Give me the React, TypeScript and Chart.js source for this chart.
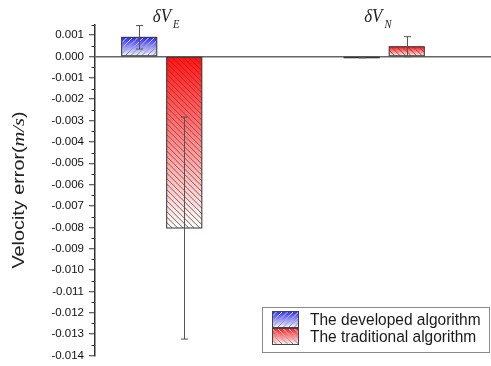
import React, { useEffect, useRef } from 'react';
import { Chart, registerables } from 'chart.js';

Chart.register(...registerables);

// ---- data ----
const categoryMain = ['δV', 'δV'];
const categorySub = ['E', 'N'];
const seriesNames = ['The developed algorithm', 'The traditional algorithm'];
const developedValues = [0.0009, -0.00004];
const developedErrors = [0.00055, 0.00002];
const traditionalValues = [-0.00803, 0.00046];
const traditionalErrors = [0.0052, 0.00047];
const yMin = -0.014;
const yMax = 0.0015;
const yStep = 0.001;
const yTitleMain = 'Velocity error(';
const yTitleUnit = 'm/s';
const yTitleEnd = ')';

// ---- style ----
const seriesColors = ['#2626f0', '#ff1414'];
const hatchDirs = [1, -1];
const SANS = '"Liberation Sans", Arial, Helvetica, sans-serif';
const SERIF = '"Liberation Serif", "Times New Roman", serif';

function hatch(ctx: CanvasRenderingContext2D, x: number, y: number, w: number, h: number, dir: number, light: boolean) {
  if (h < 2) return;
  ctx.save();
  ctx.beginPath();
  ctx.rect(x, y, w, h);
  ctx.clip();
  if (light) {
    const g = ctx.createLinearGradient(0, y, 0, y + h);
    g.addColorStop(0, 'rgba(235,235,255,0.95)');
    g.addColorStop(1, 'rgba(110,110,130,0.9)');
    ctx.strokeStyle = g;
  } else {
    const g = ctx.createLinearGradient(0, y, 0, y + h);
    g.addColorStop(0, 'rgba(120,20,20,0.45)');
    g.addColorStop(1, 'rgba(60,60,60,0.8)');
    ctx.strokeStyle = g;
  }
  ctx.lineWidth = 1;
  const step = 5.5;
  ctx.beginPath();
  for (let s = -h - step; s < w + h + step; s += step) {
    if (dir > 0) {
      ctx.moveTo(x + s, y + h);
      ctx.lineTo(x + s + h, y);
    } else {
      ctx.moveTo(x + s, y);
      ctx.lineTo(x + s + h, y + h);
    }
  }
  ctx.stroke();
  ctx.restore();
}

function gradFill(color: string) {
  return (c: any) => {
    if (c.type !== 'data') return color;
    const chart = c.chart;
    const ys = chart.scales && chart.scales.y;
    if (!ys || !c.raw) return color;
    const v = c.raw.y;
    const top = ys.getPixelForValue(Math.max(v, 0));
    const bot = ys.getPixelForValue(Math.min(v, 0));
    if (!isFinite(top) || !isFinite(bot) || bot - top < 1) return color;
    const g = chart.ctx.createLinearGradient(0, top, 0, bot);
    g.addColorStop(0, color);
    g.addColorStop(1, '#ffffff');
    return g;
  };
}

const errorsBySeries = [developedErrors, traditionalErrors];

const decorPlugin = {
  id: 'decor',
  afterDatasetsDraw(chart: any) {
    const ctx: CanvasRenderingContext2D = chart.ctx;
    const ys = chart.scales.y;
    chart.data.datasets.forEach((ds: any, di: number) => {
      const meta = chart.getDatasetMeta(di);
      meta.data.forEach((el: any) => {
        const p = el.getProps(['x', 'y', 'base', 'width'], true);
        const left = p.x - p.width / 2;
        const top = Math.min(p.y, p.base);
        const h = Math.abs(p.base - p.y);
        hatch(ctx, left, top, p.width, h, hatchDirs[di], di === 0);
        ctx.save();
        ctx.strokeStyle = '#333';
        ctx.lineWidth = 1;
        ctx.strokeRect(left, top, p.width, Math.max(h, 0.5));
        ctx.restore();
      });
    });
    // error bars
    chart.data.datasets.forEach((ds: any, di: number) => {
      const meta = chart.getDatasetMeta(di);
      meta.data.forEach((el: any, i: number) => {
        const v = ds.data[i].y;
        const e = errorsBySeries[di][i];
        const x = Math.round(el.x) + 0.5;
        const y1 = ys.getPixelForValue(v + e);
        const y2 = ys.getPixelForValue(v - e);
        ctx.save();
        ctx.strokeStyle = '#555';
        ctx.lineWidth = 1;
        ctx.beginPath();
        ctx.moveTo(x, y1);
        ctx.lineTo(x, y2);
        ctx.moveTo(x - 3.5, y1);
        ctx.lineTo(x + 3.5, y1);
        ctx.moveTo(x - 3.5, y2);
        ctx.lineTo(x + 3.5, y2);
        ctx.stroke();
        ctx.restore();
      });
    });
  },
  afterDraw(chart: any) {
    const ctx: CanvasRenderingContext2D = chart.ctx;
    const ys = chart.scales.y;
    const xs = chart.scales.x;
    const axisX = chart.chartArea.left;
    // minor ticks
    ctx.save();
    ctx.strokeStyle = '#333';
    ctx.lineWidth = 1;
    ctx.beginPath();
    for (let k = 0; ; k++) {
      const v = yMin + yStep / 2 + k * yStep;
      if (v > yMax + 1e-9) break;
      const py = Math.round(ys.getPixelForValue(v)) + 0.5;
      ctx.moveTo(axisX - 3.5, py);
      ctx.lineTo(axisX, py);
    }
    ctx.stroke();
    ctx.restore();

    // y title
    ctx.save();
    ctx.fillStyle = '#222';
    const mainFont = `16.5px ${SANS}`;
    const unitFont = `italic 17px ${SERIF}`;
    ctx.font = mainFont;
    const w1 = ctx.measureText(yTitleMain).width;
    const w3 = ctx.measureText(yTitleEnd).width;
    ctx.font = unitFont;
    const w2 = ctx.measureText(yTitleUnit).width;
    const total = w1 + w2 + w3;
    ctx.translate(24, 190);
    ctx.scale(1, 1.2);
    ctx.rotate(-Math.PI / 2);
    ctx.textBaseline = 'alphabetic';
    ctx.textAlign = 'left';
    let tx = -total / 2;
    ctx.font = mainFont;
    ctx.fillText(yTitleMain, tx, 0);
    tx += w1;
    ctx.font = unitFont;
    ctx.fillText(yTitleUnit, tx, 0);
    tx += w2;
    ctx.font = mainFont;
    ctx.fillText(yTitleEnd, tx, 0);
    ctx.restore();

    // category labels at top
    const labelOffsets = [-9, -20];
    categoryMain.forEach((m, i) => {
      const cx = xs.getPixelForValue(i + 1) + labelOffsets[i];
      ctx.save();
      ctx.fillStyle = '#222';
      ctx.textAlign = 'left';
      ctx.textBaseline = 'alphabetic';
      ctx.translate(cx, 22);
      ctx.scale(1, 1.15);
      ctx.font = `italic 17px ${SERIF}`;
      ctx.fillText(m, 0, 0);
      const mw = ctx.measureText(m).width;
      ctx.font = `italic 10.5px ${SERIF}`;
      ctx.fillText(categorySub[i], mw + 2, 5);
      ctx.restore();
    });

    // legend
    const bx = 262, by = 307, bw = 228, bh = 46;
    ctx.save();
    ctx.fillStyle = '#fff';
    ctx.fillRect(bx, by, bw, bh);
    ctx.strokeStyle = '#8a8a8a';
    ctx.lineWidth = 1;
    ctx.strokeRect(bx + 0.5, by + 0.5, bw - 1, bh - 1);
    seriesNames.forEach((name, i) => {
      const sy = 311 + i * 17;
      const sx = 272, sw = 27, sh = 17;
      const g = ctx.createLinearGradient(0, sy, 0, sy + sh);
      g.addColorStop(0, seriesColors[i]);
      g.addColorStop(1, '#ffffff');
      ctx.fillStyle = g;
      ctx.fillRect(sx, sy, sw, sh);
      hatch(ctx, sx, sy, sw, sh, hatchDirs[i], true);
      ctx.strokeStyle = '#444';
      ctx.strokeRect(sx + 0.5, sy + 0.5, sw - 1, sh - 1);
      ctx.save();
      ctx.fillStyle = '#1a1a1a';
      ctx.textBaseline = 'middle';
      ctx.textAlign = 'left';
      ctx.translate(310, sy + sh / 2 + 0.5);
      ctx.scale(1, 1.12);
      ctx.font = `15.5px ${SANS}`;
      ctx.fillText(name, 0, 0);
      ctx.restore();
    });
    ctx.restore();
  },
};

export default function App() {
  const ref = useRef<HTMLCanvasElement>(null);
  useEffect(() => {
    const canvas = ref.current;
    if (!canvas) return;
    const chart = new Chart(canvas, {
      type: 'bar',
      data: {
        datasets: [
          {
            label: seriesNames[0],
            data: developedValues.map((v, i) => ({ x: i + 1, y: v })),
            backgroundColor: gradFill(seriesColors[0]) as any,
            borderColor: '#333',
            borderWidth: 0,
            borderSkipped: false,
            categoryPercentage: 0.405,
            barPercentage: 0.78,
          } as any,
          {
            label: seriesNames[1],
            data: traditionalValues.map((v, i) => ({ x: i + 1, y: v })),
            backgroundColor: gradFill(seriesColors[1]) as any,
            borderColor: '#333',
            borderWidth: 0,
            borderSkipped: false,
            categoryPercentage: 0.405,
            barPercentage: 0.78,
          } as any,
        ],
      },
      options: {
        responsive: false,
        animation: false,
        events: [],
        layout: { padding: { top: 24.5, bottom: 10.5, left: 0, right: 0 } },
        plugins: {
          legend: { display: false },
          tooltip: { enabled: false },
          title: { display: false },
        },
        scales: {
          x: {
            type: 'linear',
            display: false,
            offset: false,
            min: 0.7,
            max: 2.48,
            ticks: { stepSize: 1, includeBounds: false },
          },
          y: {
            type: 'linear',
            min: yMin,
            max: yMax,
            afterFit: (s: any) => {
              s.width = 95;
              s.paddingTop = 0;
              s.paddingBottom = 0;
            },
            border: { display: true, color: '#333', width: 1.5 },
            grid: {
              drawOnChartArea: true,
              color: (c: any) => (c.tick && Math.abs(c.tick.value) < 1e-9 ? '#666' : 'rgba(0,0,0,0)'),
              lineWidth: 1.5,
              tickColor: '#333',
              tickLength: 6,
              tickWidth: 1,
            },
            ticks: {
              stepSize: yStep,
              includeBounds: false,
              padding: 5,
              color: '#111',
              font: { family: SANS, size: 11.5 },
              callback: (v: any) => {
                const n = Number(v);
                return Math.abs(n) < 1e-9 ? '0.000' : n.toFixed(3);
              },
            },
          },
        },
      } as any,
      plugins: [decorPlugin as any],
    });
    return () => chart.destroy();
  }, []);
  return (
    <div style={{ position: 'absolute', left: 0, top: 0, width: 491, height: 366, background: '#fff' }}>
      <canvas ref={ref} width={491} height={366} style={{ display: 'block' }} />
    </div>
  );
}
